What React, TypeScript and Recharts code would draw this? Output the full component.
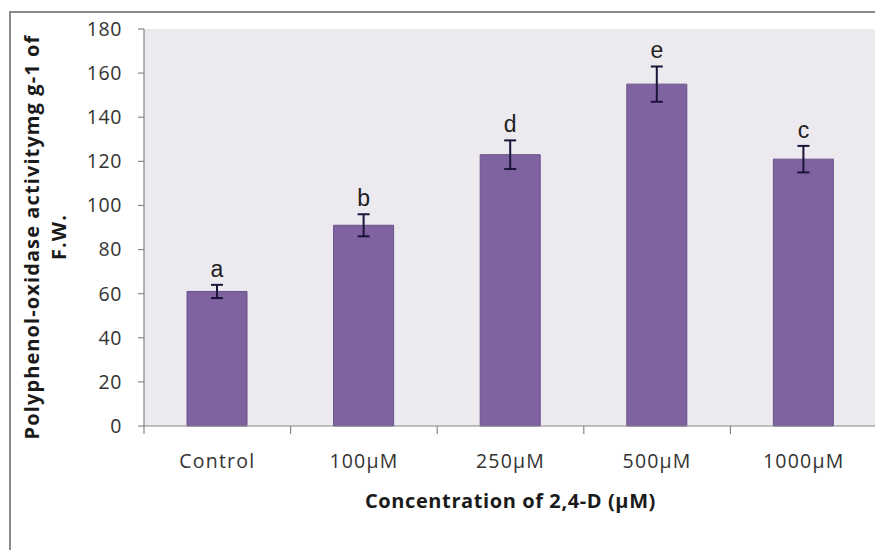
import React from "react";
import {
  Bar,
  BarChart,
  CartesianGrid,
  ErrorBar,
  Label,
  LabelList,
  XAxis,
  YAxis,
} from "recharts";

const CATEGORIES = ["Control", "100µM", "250µM", "500µM", "1000µM"];
const ACTIVITY = [61, 91, 123, 155, 121];
const ERRORS = [3, 5, 6.5, 8, 6];
const LETTERS = ["a", "b", "d", "e", "c"];
const Y_TICKS = [0, 20, 40, 60, 80, 100, 120, 140, 160, 180];

const data = CATEGORIES.map((name, i) => ({
  name,
  value: ACTIVITY[i],
  err: ERRORS[i],
  letter: LETTERS[i],
}));

const FONT = "'Open Sans', sans-serif";
const AXIS_GREY = "#868686";

function CategoryTick(props: any) {
  const { x, y, payload } = props;
  const half = payload && typeof payload.offset === "number" ? payload.offset : 0;
  return (
    <g>
      <line x1={x - half} y1={y} x2={x - half} y2={y + 8} stroke={AXIS_GREY} strokeWidth={1.2} />
      <text
        x={x}
        y={y + 42}
        textAnchor="middle"
        fontFamily={FONT}
        fontSize={19.5}
        letterSpacing={1.2}
        fill="#333"
      >
        {payload.value}
      </text>
    </g>
  );
}

function LetterLabel(props: any) {
  const { x, y, width, height, index, value } = props;
  const v = ACTIVITY[index];
  const top = y - (ERRORS[index] * height) / v;
  return (
    <text
      x={x + width / 2}
      y={top - 8}
      textAnchor="middle"
      fontFamily="'Liberation Sans', sans-serif"
      fontSize={23}
      fill="#222"
    >
      {value}
    </text>
  );
}

function YTitle() {
  return (
    <g fontFamily={FONT} fontWeight={700} fontSize={20} fill="#1a1a1a" letterSpacing={1.1}>
      <text x={39} y={237} textAnchor="middle" transform="rotate(-90, 39, 237)">
        Polyphenol-oxidase activitymg g-1 of
      </text>
      <text x={66} y={237} textAnchor="middle" transform="rotate(-90, 66, 237)">
        F.W.
      </text>
    </g>
  );
}

function XTitle(props: any) {
  const vb = props.viewBox || { x: 144, width: 733 };
  return (
    <text
      x={vb.x + vb.width / 2}
      y={508}
      textAnchor="middle"
      fontFamily={FONT}
      fontWeight={700}
      fontSize={20}
      letterSpacing={0.6}
      fill="#1a1a1a"
    >
      Concentration of 2,4-D (µM)
    </text>
  );
}

export default function App() {
  return (
    <div
      style={{
        position: "absolute",
        left: 0,
        top: 0,
        width: 875,
        height: 550,
        overflow: "hidden",
        background: "#fff",
      }}
    >
      <div
        style={{
          position: "absolute",
          left: 9,
          top: 11,
          width: 900,
          height: 600,
          borderLeft: "2px solid #8a8a8a",
          borderTop: "2px solid #8a8a8a",
        }}
      />
      <div style={{ position: "absolute", left: 0, top: 0 }}>
        <BarChart
          width={878}
          height={550}
          data={data}
          margin={{ top: 29, right: 1, bottom: 0, left: 0 }}
          barSize={60}
        >
          <CartesianGrid horizontal={false} vertical={false} fill="#ECE9EF" stroke="none" />
          <XAxis
            dataKey="name"
            height={124}
            axisLine={{ stroke: AXIS_GREY, strokeWidth: 1.2 }}
            tickLine={false}
            tickSize={0}
            tickMargin={0}
            interval={0}
            tick={<CategoryTick />}
          >
            <Label content={<XTitle />} />
          </XAxis>
          <YAxis
            width={144}
            domain={[0, 180]}
            ticks={Y_TICKS}
            interval={0}
            axisLine={{ stroke: AXIS_GREY, strokeWidth: 1.2 }}
            tickLine={{ stroke: AXIS_GREY, strokeWidth: 1.2 }}
            tickSize={6}
            tickMargin={16}
            tick={{ fontFamily: FONT, fontSize: 19.5, fill: "#333", letterSpacing: 0.6 }}
          >
            <Label content={<YTitle />} />
          </YAxis>
          <Bar
            dataKey="value"
            fill="#7F63A1"
            stroke="#68528a"
            strokeWidth={1}
            isAnimationActive={false}
          >
            <ErrorBar dataKey="err" width={6} stroke="#1b1339" strokeWidth={2} />
            <LabelList dataKey="letter" content={<LetterLabel />} />
          </Bar>
        </BarChart>
      </div>
    </div>
  );
}
